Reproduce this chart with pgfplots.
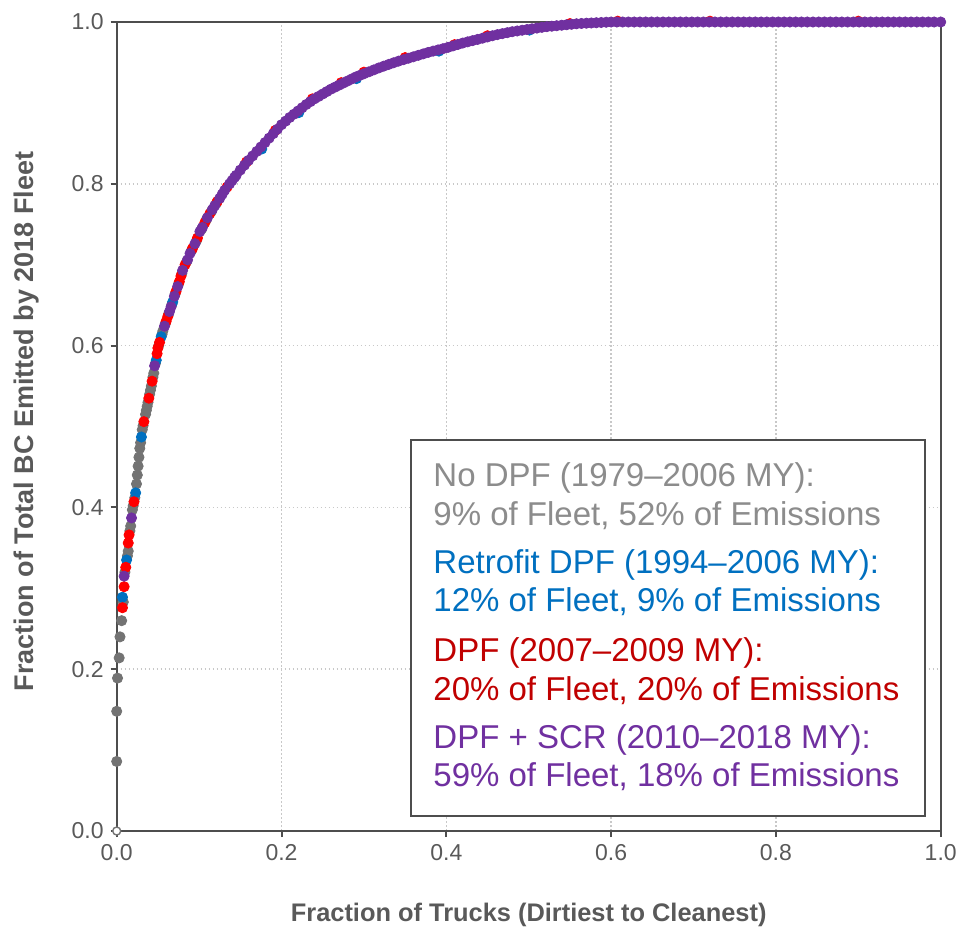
\documentclass[border=0pt]{standalone}
\usepackage{fontspec}
\setmainfont{Liberation Sans}
\usepackage{pgfplots}
\pgfplotsset{compat=1.18}
\definecolor{cgray}{HTML}{737373}
\definecolor{cblue}{HTML}{0070C0}
\definecolor{cred}{HTML}{FF0000}
\definecolor{cpurple}{HTML}{7030A0}
\definecolor{tgray}{HTML}{8C8C8C}
\definecolor{tred}{HTML}{C00000}
\definecolor{lab}{HTML}{595959}
\definecolor{axc}{HTML}{4D4D4D}
\definecolor{gridc}{HTML}{C8C8C8}
\newcommand{\legfont}{\fontsize{16.5}{19}\selectfont}
\begin{document}
\begin{tikzpicture}
\path[use as bounding box] (-58.35pt,-51.5pt) rectangle (422.65pt,415.5pt);
\begin{axis}[
  scale only axis, width=412pt, height=404.5pt,
  xmin=0, xmax=1, ymin=0, ymax=1,
  xtick={0,0.2,0.4,0.6,0.8,1}, ytick={0,0.2,0.4,0.6,0.8,1},
  xtick pos=bottom, ytick pos=left, tick align=outside, major tick length=3pt,
  axis line style={axc, line width=1pt},
  tick style={axc, line width=1pt},
  grid=major, major grid style={gridc, line width=0.8pt, dash pattern=on 0.8pt off 1.2pt},
  ticklabel style={font=\fontsize{11.5}{13}\selectfont, text=lab},
  /pgf/number format/fixed, /pgf/number format/fixed zerofill,
  /pgf/number format/precision=1, /pgf/number format/assume math mode=true,
  xlabel={Fraction of Trucks (Dirtiest to Cleanest)},
  ylabel={Fraction of Total BC Emitted by 2018 Fleet},
  xlabel style={font=\bfseries\fontsize{12.7}{15}\selectfont, text=lab, at={(axis description cs:0.5,-0.104)}, anchor=center},
  ylabel style={font=\bfseries\fontsize{13.5}{15}\selectfont, text=lab, at={(axis description cs:-0.11,0.506)}, anchor=center},
  clip=false,
]
% No DPF
\addplot[only marks, mark=*, mark size=2.55pt, color=cgray] coordinates {
(0.000,0.086)(0.000,0.148)(0.001,0.189)(0.003,0.214)(0.004,0.240)(0.006,0.260)
(0.014,0.346)(0.017,0.377)(0.019,0.397)(0.024,0.429)(0.025,0.440)(0.026,0.451)
(0.027,0.462)(0.028,0.473)(0.031,0.496)(0.035,0.515)(0.037,0.525)(0.041,0.545)
(0.045,0.566)(0.056,0.618)
(0.008,0.283)(0.010,0.320)(0.013,0.340)(0.016,0.371)(0.020,0.402)(0.022,0.412)
(0.029,0.480)(0.032,0.501)(0.036,0.520)(0.038,0.530)(0.040,0.540)(0.042,0.550)
(0.044,0.561)(0.047,0.578)(0.051,0.600)(0.055,0.614)(0.059,0.627)(0.063,0.639)
(0.067,0.651)(0.071,0.664)(0.075,0.676)(0.079,0.689)(0.085,0.704)(0.091,0.718)
(0.097,0.730)(0.103,0.744)(0.109,0.756)(0.115,0.766)(0.121,0.776)
};
% Retrofit DPF
\addplot[only marks, mark=*, mark size=2.55pt, color=cblue] coordinates {
(0.007,0.289)(0.012,0.335)(0.023,0.418)(0.030,0.487)(0.048,0.582)(0.054,0.611)
(0.068,0.654)(0.176,0.843)(0.221,0.888)(0.291,0.930)(0.391,0.964)(0.501,0.990)
};
% DPF 2007-2009
\addplot[only marks, mark=*, mark size=2.55pt, color=cred] coordinates {
(0.007,0.276)(0.009,0.302)(0.011,0.326)(0.014,0.356)(0.015,0.366)(0.021,0.407)
(0.033,0.506)(0.039,0.535)(0.043,0.556)(0.049,0.590)(0.050,0.597)(0.052,0.604)
(0.060,0.630)(0.062,0.636)(0.072,0.667)(0.076,0.679)(0.078,0.686)(0.083,0.700)
(0.092,0.720)(0.098,0.733)(0.107,0.752)(0.113,0.763)(0.122,0.778)(0.134,0.796)
(0.1575,0.827)(0.1925,0.866)(0.2375,0.905)(0.2725,0.925)(0.300,0.938)(0.350,0.956)
(0.410,0.972)(0.450,0.983)(0.550,0.998)(0.608,1.001)(0.720,1.001)(0.900,1.001)
};
% DPF + SCR
\addplot[only marks, mark=*, mark size=2.55pt, color=cpurple] coordinates {
(0.009,0.315)(0.018,0.387)(0.046,0.575)(0.058,0.624)(0.064,0.642)(0.066,0.648)
(0.070,0.661)(0.074,0.673)(0.080,0.693)(0.086,0.706)(0.089,0.714)(0.095,0.726)
(0.101,0.741)(0.104,0.746)(0.110,0.758)(0.116,0.768)(0.119,0.773)(0.125,0.782)
(0.128,0.787)(0.131,0.792)(0.137,0.800)(0.140,0.804)(0.143,0.808)
(0.145,0.8105)(0.150,0.817)(0.155,0.823)(0.160,0.829)(0.165,0.8345)(0.170,0.840)
(0.175,0.8455)(0.180,0.851)(0.185,0.8565)(0.190,0.862)(0.195,0.8675)(0.200,0.873)
(0.205,0.8775)(0.210,0.882)(0.215,0.886)(0.220,0.890)(0.225,0.894)(0.230,0.898)
(0.235,0.9015)(0.240,0.905)(0.245,0.908)(0.250,0.911)(0.255,0.914)(0.260,0.917)
(0.265,0.9195)(0.270,0.922)(0.275,0.9245)(0.280,0.927)(0.285,0.9295)(0.290,0.932)
(0.295,0.934)(0.300,0.936)
(0.306,0.9384)(0.312,0.9408)(0.318,0.9432)(0.324,0.9454)(0.330,0.9475)(0.336,0.9496)
(0.342,0.9516)(0.348,0.9534)(0.354,0.9552)(0.360,0.957)(0.366,0.9588)(0.372,0.9606)
(0.378,0.9624)(0.384,0.964)(0.390,0.9655)(0.396,0.967)(0.402,0.9686)(0.408,0.9704)
(0.414,0.9722)(0.420,0.974)(0.426,0.9755)(0.432,0.977)(0.438,0.9785)(0.444,0.980)
(0.450,0.9815)(0.456,0.983)(0.462,0.9844)(0.468,0.9856)(0.474,0.9868)(0.480,0.988)
(0.486,0.9889)(0.492,0.9898)(0.498,0.9907)(0.504,0.9916)(0.510,0.9925)(0.516,0.9934)
(0.522,0.9942)(0.528,0.9948)(0.534,0.9954)(0.540,0.996)(0.546,0.9966)(0.552,0.9972)
(0.558,0.9978)(0.564,0.9982)(0.570,0.9985)(0.576,0.9988)(0.582,0.9991)(0.588,0.9994)
(0.594,0.9997)(0.600,1.000)
(0.607,1)(0.614,1)(0.621,1)(0.628,1)(0.635,1)(0.642,1)(0.649,1)(0.656,1)(0.663,1)
(0.670,1)(0.677,1)(0.684,1)(0.691,1)(0.698,1)(0.705,1)(0.712,1)(0.719,1)(0.726,1)
(0.733,1)(0.740,1)(0.747,1)(0.754,1)(0.761,1)(0.768,1)(0.775,1)(0.782,1)(0.789,1)
(0.796,1)(0.803,1)(0.810,1)(0.817,1)(0.824,1)(0.831,1)(0.838,1)(0.845,1)(0.852,1)
(0.859,1)(0.866,1)(0.873,1)(0.880,1)(0.887,1)(0.894,1)(0.901,1)(0.908,1)(0.915,1)
(0.922,1)(0.929,1)(0.936,1)(0.943,1)(0.950,1)(0.957,1)(0.964,1)(0.971,1)(0.978,1)
(0.985,1)(0.992,1)(1.000,1)
};
% open origin point
\addplot[only marks, mark=*, mark size=2pt, mark options={fill=white, draw=cgray, line width=0.7pt}] coordinates {(0,0)};
% legend box
\draw[axc, line width=1pt, fill=white] (axis cs:0.357,0.0185) rectangle (axis cs:0.981,0.483);
\node[anchor=base west, inner sep=0pt, text=tgray, font=\legfont] at (axis cs:0.3839,0.4256) {No DPF (1979–2006 MY):};
\node[anchor=base west, inner sep=0pt, text=tgray, font=\legfont] at (axis cs:0.3839,0.3782) {9\% of Fleet, 52\% of Emissions};
\node[anchor=base west, inner sep=0pt, text=cblue, font=\legfont] at (axis cs:0.3839,0.3185) {Retrofit DPF (1994–2006 MY):};
\node[anchor=base west, inner sep=0pt, text=cblue, font=\legfont] at (axis cs:0.3839,0.2711) {12\% of Fleet, 9\% of Emissions};
\node[anchor=base west, inner sep=0pt, text=tred, font=\legfont] at (axis cs:0.3839,0.2093) {DPF (2007–2009 MY):};
\node[anchor=base west, inner sep=0pt, text=tred, font=\legfont] at (axis cs:0.3839,0.1619) {20\% of Fleet, 20\% of Emissions};
\node[anchor=base west, inner sep=0pt, text=cpurple, font=\legfont] at (axis cs:0.3839,0.1022) {DPF + SCR (2010–2018 MY):};
\node[anchor=base west, inner sep=0pt, text=cpurple, font=\legfont] at (axis cs:0.3839,0.0548) {59\% of Fleet, 18\% of Emissions};
\end{axis}
\end{tikzpicture}
\end{document}
